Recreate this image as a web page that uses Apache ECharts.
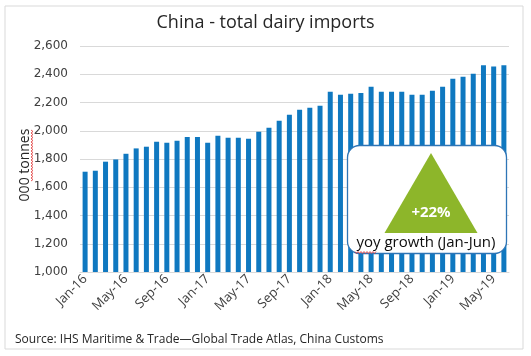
<!DOCTYPE html>
<html><head><meta charset="utf-8">
<script src="https://cdn.jsdelivr.net/npm/echarts@6/dist/echarts.min.js"></script>
<style>html,body{margin:0;padding:0;background:#fff}#c{width:531px;height:356px}</style>
</head><body><div id="c"></div>
<script>
var categories = ["Jan-16","Feb-16","Mar-16","Apr-16","May-16","Jun-16","Jul-16","Aug-16","Sep-16","Oct-16","Nov-16","Dec-16",
"Jan-17","Feb-17","Mar-17","Apr-17","May-17","Jun-17","Jul-17","Aug-17","Sep-17","Oct-17","Nov-17","Dec-17",
"Jan-18","Feb-18","Mar-18","Apr-18","May-18","Jun-18","Jul-18","Aug-18","Sep-18","Oct-18","Nov-18","Dec-18",
"Jan-19","Feb-19","Mar-19","Apr-19","May-19","Jun-19"];
var imports = [1710,1717,1781,1797,1837,1875,1887,1922,1915,1929,1956,1956,
1915,1965,1951,1951,1944,1993,2021,2071,2113,2149,2163,2177,
2276,2255,2262,2267,2312,2276,2276,2276,2255,2255,2284,2312,
2369,2383,2404,2463,2455,2463];
var yTicks = [1000,1200,1400,1600,1800,2000,2200,2400,2600];
var titleText = "China - total dairy imports";
var yName = "000 tonnes";
var sourceText = "Source: IHS Maritime & Trade\u2014Global Trade Atlas, China Customs";
var growthText = "+22%";
var growthLabel = "yoy growth (Jan-Jun)";

function wavy(x0, y0, len, vertical) {
  var pts = [], step = 1.5, i = 0;
  for (var d = 0; d <= len; d += step, i++) {
    var off = (i % 2 === 0) ? -1 : 1;
    pts.push(vertical ? [x0 + off, y0 + d] : [x0 + d, y0 + off]);
  }
  return pts;
}

var chart = echarts.init(document.getElementById('c'), null, {renderer: 'canvas'});
var font = '"Open Sans", "DejaVu Sans", sans-serif';
chart.setOption({
  animation: false,
  backgroundColor: '#fff',
  title: {
    text: titleText, left: 'center', top: 9,
    textStyle: {fontFamily: font, fontSize: 18, fontWeight: 'normal', color: '#262626'}
  },
  grid: {left: 80, right: 22, top: 46, bottom: 84},
  xAxis: {
    type: 'category', data: categories,
    axisTick: {show: false},
    axisLine: {show: true, lineStyle: {color: '#d9d9d9'}},
    axisLabel: {interval: 3, rotate: 45, fontFamily: font, fontSize: 13, color: '#404040', margin: 5}
  },
  yAxis: {
    type: 'value', min: yTicks[0], max: yTicks[yTicks.length - 1], interval: 200,
    name: yName, nameLocation: 'middle', nameGap: 48, nameMoveOverlap: false,
    nameTextStyle: {fontFamily: font, fontSize: 14, color: '#262626', padding: [0, 0, 0, -12]},
    axisLine: {show: false}, axisTick: {show: false},
    splitLine: {lineStyle: {color: '#d9d9d9', width: 1}},
    axisLabel: {
      fontFamily: '"DejaVu Sans", Verdana, sans-serif', fontSize: 12, color: '#404040', margin: 12,
      formatter: function (v) { return v.toLocaleString('en-US'); }
    }
  },
  series: [{
    type: 'bar', data: imports, barWidth: 5,
    itemStyle: {color: '#0f78c0'}
  }],
  graphic: [
    {type: 'rect', shape: {x: 5, y: 6, width: 518, height: 343}, style: {fill: 'none', stroke: '#d9d9d9', lineWidth: 1}, z: 0},
    {type: 'rect', shape: {x: 347.5, y: 145.5, width: 159, height: 108, r: 12},
      style: {fill: '#fff', stroke: '#2e75b6', lineWidth: 1.3}, z: 100},
    {type: 'polygon', shape: {points: [[431, 153], [384.5, 233], [477.5, 233]]},
      style: {fill: '#8db62a'}, z: 101},
    {type: 'text', x: 431, y: 213, z: 102,
      style: {text: growthText, fill: '#fff', font: 'bold 15px ' + font, textAlign: 'center', textVerticalAlign: 'middle'}},
    {type: 'text', x: 426, y: 243, z: 102,
      style: {text: growthLabel, fill: '#0d0d0d', font: '15px ' + font, textAlign: 'center', textVerticalAlign: 'middle'}},
    {type: 'polyline', shape: {points: wavy(355, 252.5, 22, false)}, style: {stroke: '#e03030', lineWidth: 0.8, fill: null}, z: 103},
    {type: 'polyline', shape: {points: wavy(32, 130, 52, true)}, style: {stroke: '#e03030', lineWidth: 0.8, fill: null}, z: 103},
    {type: 'text', x: 15, y: 340,
      style: {text: sourceText, fill: '#262626', font: '12px ' + font, textVerticalAlign: 'middle'}}
  ]
});
</script></body></html>
